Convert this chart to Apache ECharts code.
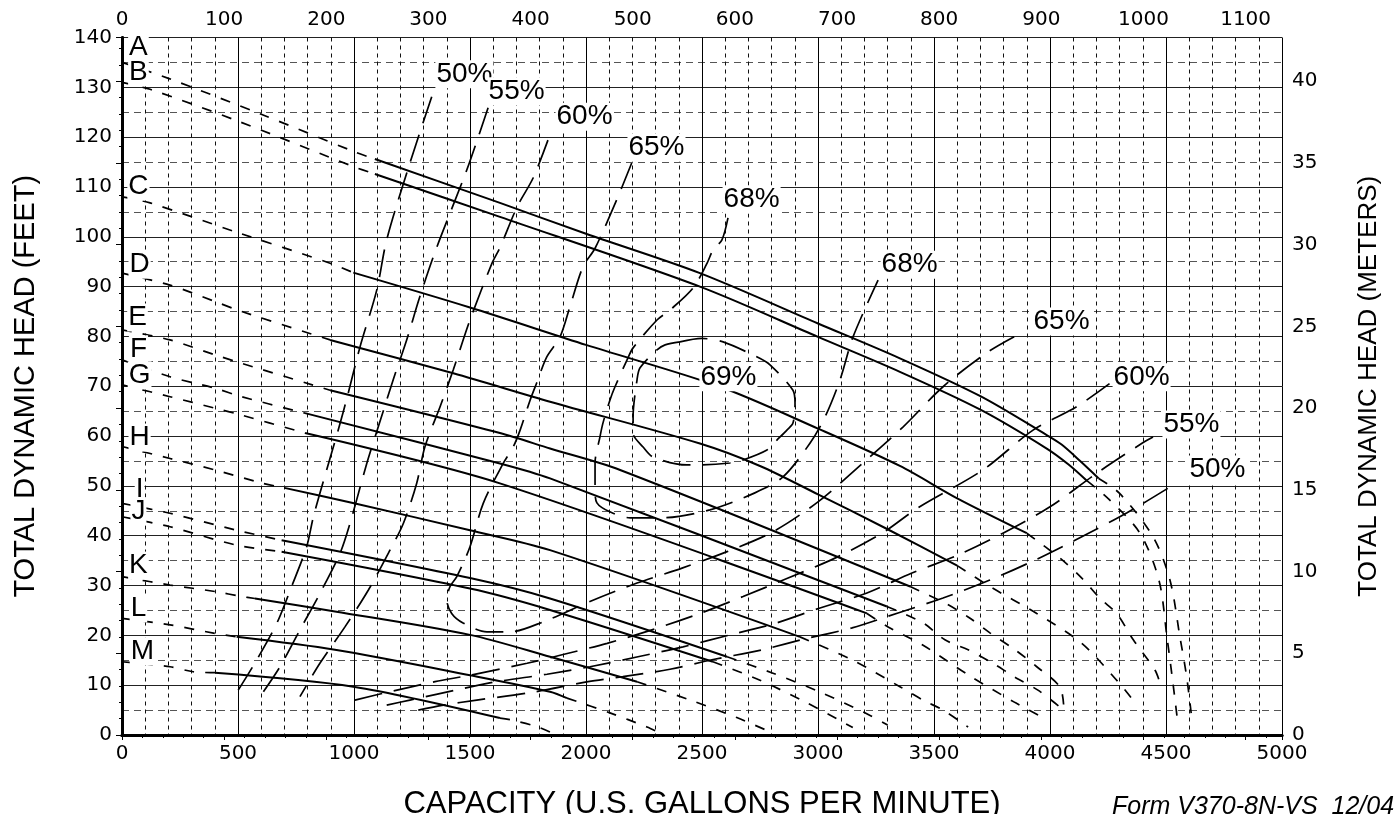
<!DOCTYPE html>
<html>
<head>
<meta charset="utf-8">
<script src="https://cdn.jsdelivr.net/npm/echarts@6/dist/echarts.min.js"></script>
<style>
  html, body { margin: 0; padding: 0; background: #fff; }
  #chart { width: 1395px; height: 814px; }
</style>
</head>
<body>
<div id="chart"></div>
<script>
// capacity in US gpm, head in feet
const GPM_PER_M3H = 4.40287;
const FT_PER_M = 3.28084;

// pump curves: dashed start, solid operating range, dashed run-out
const aLeft = [[0,135],[200,131.8],[600,124.6],[1000,117.1],[1090,115.6]];
const aSolid = [[1090,115.6],[1629,106.8],[2000,100.6],[2491,92.7],[3000,82.6],[3353,75.6],[3700,68],[3986,60.2],[4050,58.3],[4130,55],[4210,51.5]];
const aRight = [[4210,51.5],[4300,48.5],[4444,39.8],[4517,31.1],[4560,19.7],[4589,11.7],[4611,3.4]];

const bLeft = [[0,131],[121,129.6],[501,123.2],[997,114.1],[1090,112.6]];
const bSolid = [[1090,112.6],[1629,104],[2491,90],[3000,79.9],[3353,72.9],[3700,65.3],[3986,57.5],[4080,54.3],[4160,51]];
const bRight = [[4160,51],[4250,47.5],[4388,40.5],[4470,31],[4504,19.7],[4530,10.4],[4552,2]];

const cLeft = [[0,108],[121,106.8],[501,100.8],[897,94.7],[997,92.8]];
const cSolid = [[997,92.8],[1500,85.8],[2000,78.3],[2578,69.9],[3000,61.5],[3353,54],[3600,47.5],[3900,40.5]];
const cRight = [[3900,40.5],[4043,35.5],[4137,31.5],[4216,27.4],[4287,24.4],[4359,19.1],[4453,13],[4474,10.4]];

const dLeft = [[0,92.7],[207,90.3],[401,87],[516,85],[897,79.3]];
const dSolid = [[897,79.3],[1428,72.6],[1845,66.9],[2491,58.5],[2750,54],[3000,48.3],[3300,41.3],[3600,34]];
const dRight = [[3600,34],[3741,29.8],[3943,24.4],[4137,18.4],[4293,10.7],[4358,7]];

const eLeft = [[0,81.3],[207,79.3],[401,76.3],[516,74.6],[897,69.2]];
const eSolid = [[897,69.2],[1629,60.6],[1845,57.5],[2147,53.2],[3397,29.8]];
const eRight = [[3397,29.8],[3547,26.5],[3647,23.7],[3741,20.5],[3849,17.1],[3943,13.7],[4043,9.6],[4060,5]];

const fLeft = [[0,75.3],[207,71.9],[401,69.6],[516,67.9],[789,64.6]];
const fSolid = [[789,64.6],[1629,54.5],[1845,51.5],[3297,25.8]];
const fRight = [[3297,25.8],[3453,22.5],[3547,19.1],[3647,17.1],[3750,14.5],[3849,11.6],[3948,9],[4043,5.6]];

const gLeft = [[0,70.3],[207,67.9],[401,65.6],[516,64.2],[789,60.6]];
const gSolid = [[789,60.6],[1629,50.5],[3211,24.4]];
const gRight = [[3211,24.4],[3302,21.7],[3453,18],[3650,12],[3850,6.5],[3991,3]];

const hLeft = [[0,57.9],[207,55.5],[401,53.2],[600,50.6],[700,49.6]];
const hSolid = [[700,49.6],[1000,46.5],[1500,41.1],[1845,37.1],[2922,19.7]];
const hRight = [[2922,19.7],[3150,15],[3353,9.7],[3453,7],[3539,5],[3647,1.6]];

const iLeft = [[0,46.5],[207,44.5],[494,41.1],[688,39.1]];
const iSolid = [[688,39.1],[1500,31.5],[1845,27.4],[2608,15.7]];
const iRight = [[2608,15.7],[2800,12.5],[3000,8.8],[3200,4.5],[3300,2]];

const jLeft = [[0,43.8],[207,41.8],[494,38.1],[688,36.8]];
const jSolid = [[688,36.8],[1500,29.4],[1845,25.1],[2547,14.7]];
const jRight = [[2547,14.7],[2750,11],[2950,6.5],[3150,1.5]];

const kLeft = [[0,31.8],[207,30.1],[401,28.8],[516,27.8],[573,27.4]];
const kSolid = [[573,27.4],[918,24.8],[1500,20.1],[1845,15.7],[2220,10.7]];
const kRight = [[2220,10.7],[2450,7],[2650,3.5],[2800,0.5]];

const lLeft = [[0,23.4],[207,22.1],[401,20.4],[494,19.7]];
const lSolid = [[494,19.7],[918,17.1],[1500,12],[1845,8.7],[1918,7.4]];
const lRight = [[1918,7.4],[2100,4.5],[2263,1.6],[2319,0.4]];

const mLeft = [[0,14.7],[207,13.7],[307,12.7],[401,12.5]];
const mSolid = [[401,12.5],[997,9.7],[1629,3.4]];
const mRight = [[1629,3.4],[1680,3],[1787,1.7],[1850,0.5]];

// efficiency contours
const eff50Left = [[1335,128.1],[1241,114.8],[1141,99.4],[1098,89.3],[1026,77.9],[975,68.6],[932,61.2],[882,53.2],[825,43.8],[796,37.8],[731,29.8],[667,22.4],[581,15.1],[501,9]];
const eff55Left = [[1578,125.9],[1486,113.4],[1356,97.8],[1284,88],[1227,79.3],[1169,71.3],[1105,61.9],[1055,54.5],[983,42.5],[940,36.5],[853,28.4],[767,21.1],[681,13.7],[595,7.7]];
const eff60Left = [[1836,119.4],[1772,111.8],[1703,106],[1629,97.8],[1595,94.7],[1500,83.3],[1428,73.3],[1371,65.9],[1306,57.9],[1270,50.5],[1213,42.5],[1155,37.1],[1062,29.1],[961,21.7],[853,14.4],[767,7.7]];
const eff65 = [[2197,114.8],[2132,107.4],[2039,97.7],[1987,94],[1931,86],[1888,79.9],[1831,75.9],[1787,70.6],[1759,67.2],[1716,61.2],[1687,57.9],[1643,54.5],[1557,46.5],[1500,37.8],[1443,31.8],[1414,29.8],[1400,27.1],[1421,24.4],[1470,22.5],[1573,20.7],[1672,20.7],[1815,22.7],[2017,26.8],[2220,30.5],[2414,33.5],[2608,36.8],[2806,40.8],[3000,46.8],[3194,54.6],[3366,61.8],[3539,69.9],[3733,76.9],[3884,80.9]];
const eff68 = [[2612,103.8],[2586,99.4],[2547,97.3],[2522,94.7],[2461,89.7],[2362,85.3],[2306,83.3],[2203,77.7],[2181,75.7],[2125,69.9],[2103,67.2],[2073,62.6],[2060,59.8],[2039,54.6],[2039,49.2],[2047,46.6],[2103,44.8],[2190,43.6],[2332,43.6],[2534,45.2],[2728,48.6],[2849,51.8],[2966,58.6],[3030,63.8],[3095,71.3],[3151,79.9],[3259,91.3]];
const eff69 = [[2405,78.9],[2499,79.6],[2591,78.9],[2736,75.9],[2793,74.3],[2892,69.2],[2901,66.6],[2892,62.6],[2866,61.2],[2823,59.2],[2780,57.2],[2677,55.2],[2621,54.6],[2491,54.2],[2435,54.2],[2289,55.8],[2246,57.8],[2203,60.6],[2203,63.8],[2220,71.3],[2233,73.7],[2306,77.3],[2341,78.3],[2405,78.9]];
const eff60Right = [[1004,7],[1155,8.7],[1349,10.7],[1500,12],[1746,14.4],[1897,16.1],[2091,18.4],[2284,21.1],[2491,24.4],[2677,27.8],[2871,31.5],[3073,35.5],[3276,40.5],[3431,45.6],[3711,53.2],[3927,61.2],[4115,65.9],[4259,70.6]];
const eff55Right = [[1141,6],[1241,7],[1478,9.4],[1615,10.7],[1832,12.2],[2017,13.7],[2224,15.7],[2418,17.7],[2621,20.1],[2815,22.4],[3009,25.5],[3211,28.5],[3405,32.5],[3603,36.1],[3797,40.5],[4000,45.8],[4203,52.6],[4395,58.5],[4444,59.8]];
const eff50Right = [[1277,5],[1385,6],[1529,7],[1772,8.6],[2009,10.7],[2159,11.7],[2362,13.2],[2543,15.1],[2759,17.1],[2953,19.4],[3147,21.5],[3345,24.5],[3539,27.5],[3741,31.1],[3935,35.1],[4137,39.8],[4332,44.6],[4532,50.2]];

// text anchors [gpm, ft, text]
const curveLabels = [[73,137.9,'A'],[73,132.9,'B'],[73,110,'C'],[78,94.3,'D'],[69,83.7,'E'],[73,77.3,'F'],[78,72.1,'G'],[78,59.6,'H'],[78,49.2,'I'],[73,44.8,'J'],[73,33.9,'K'],[73,25.3,'L'],[90,16.7,'M']];
const effLabels = [[1478,132.5,'50%'],[1703,129.1,'55%'],[1996,124,'60%'],[2306,117.8,'65%'],[2716,107.4,'68%'],[3397,94.3,'68%'],[4052,82.9,'65%'],[4397,71.7,'60%'],[4612,62.2,'55%'],[4724,53.2,'50%'],[2616,71.7,'69%']];

const chart = echarts.init(document.getElementById('chart'));

const pumpCurves = [
  [aLeft, aSolid, aRight], [bLeft, bSolid, bRight], [cLeft, cSolid, cRight],
  [dLeft, dSolid, dRight], [eLeft, eSolid, eRight], [fLeft, fSolid, fRight],
  [gLeft, gSolid, gRight], [hLeft, hSolid, hRight], [iLeft, iSolid, iRight],
  [jLeft, jSolid, jRight], [kLeft, kSolid, kRight], [lLeft, lSolid, lRight],
  [mLeft, mSolid, mRight]
];
const effCurves = [eff50Left, eff55Left, eff60Left, eff65, eff68, eff69, eff60Right, eff55Right, eff50Right];

function line(data, dash, width) {
  return {
    type: 'line',
    data: data,
    symbol: 'none',
    smooth: 0.3,
    silent: true,
    z: 3,
    lineStyle: { color: '#000', width: width, type: dash }
  };
}

let series = [];
pumpCurves.forEach(c => {
  series.push(line(c[0], [10, 11], 1.7));
  series.push(line(c[1], 'solid', 2));
  series.push(line(c[2], [10, 11], 1.7));
});
effCurves.forEach(c => series.push(line(c, [28, 12], 1.7)));

const textSeries = (data, size) => ({
  type: 'scatter',
  data: data,
  symbolSize: 1,
  z: 5,
  silent: true,
  itemStyle: { color: '#fff', opacity: 1 },
  label: {
    show: true,
    position: [0, 0],
    align: 'center',
    verticalAlign: 'middle',
    formatter: p => p.value[2],
    fontFamily: 'Liberation Sans',
    fontSize: size,
    color: '#000',
    opacity: 1,
    backgroundColor: '#fff',
    padding: [0, 1, 0, 1]
  }
});
series.push(textSeries(curveLabels, 28));
series.push(textSeries(effLabels, 28));

const tickFont = { fontFamily: 'DejaVu Sans', fontSize: 20, color: '#000', formatter: v => String(v) };

const option = {
  animation: false,
  backgroundColor: '#fff',
  grid: { left: 122, right: 113, top: 37.5, bottom: 79, outerBoundsMode: 'none' },
  xAxis: [
    {
      type: 'value', position: 'bottom', min: 0, max: 5000, interval: 500,
      name: 'CAPACITY (U.S. GALLONS PER MINUTE)', nameLocation: 'middle', nameGap: 54,
      nameTextStyle: { fontFamily: 'Liberation Sans', fontSize: 31, color: '#000' },
      axisLine: { show: true, lineStyle: { color: '#000', width: 3 } },
      axisTick: { show: false },
      axisLabel: Object.assign({ margin: 9 }, tickFont),
      splitLine: { show: true, lineStyle: { color: '#000', width: 1 } },
      minorTick: { show: false, splitNumber: 5 },
      minorSplitLine: { show: true, lineStyle: { color: '#111', width: 1, type: [4, 4] } }
    },
    {
      type: 'value', position: 'top', min: 0, max: 5000 / GPM_PER_M3H, interval: 100,
      axisLine: { show: true, lineStyle: { color: '#000', width: 3 } },
      axisTick: { show: true, inside: true, length: 5, lineStyle: { color: '#000' } },
      minorTick: { show: true, splitNumber: 5, length: 3, lineStyle: { color: '#000' } },
      axisLabel: Object.assign({ margin: 8, showMaxLabel: false }, tickFont),
      splitLine: { show: false }
    }
  ],
  yAxis: [
    {
      type: 'value', position: 'left', min: 0, max: 140, interval: 10,
      name: 'TOTAL DYNAMIC HEAD (FEET)', nameLocation: 'middle', nameGap: 82, nameRotate: 90,
      nameTextStyle: { fontFamily: 'Liberation Sans', fontSize: 29, color: '#000' },
      axisLine: { show: true, lineStyle: { color: '#000', width: 3 } },
      axisTick: { show: false },
      axisLabel: Object.assign({ margin: 10 }, tickFont),
      splitLine: { show: true, lineStyle: { color: '#222', width: 1 } },
      minorTick: { show: false, splitNumber: 2 },
      minorSplitLine: { show: true, lineStyle: { color: '#555', width: 1, type: [7, 5] } }
    },
    {
      type: 'value', position: 'right', min: 0, max: 140 / FT_PER_M, interval: 5,
      name: 'TOTAL DYNAMIC HEAD (METERS)', nameLocation: 'middle', nameGap: 74, nameRotate: 90,
      nameTextStyle: { fontFamily: 'Liberation Sans', fontSize: 26, color: '#000' },
      axisLine: { show: true, lineStyle: { color: '#000', width: 3 } },
      axisTick: { show: true, inside: true, length: 6, lineStyle: { color: '#000' } },
      minorTick: { show: true, splitNumber: 5, length: 3, lineStyle: { color: '#000' } },
      axisLabel: Object.assign({ margin: 10, showMaxLabel: false }, tickFont),
      splitLine: { show: false }
    }
  ],
  graphic: [
    {
      type: 'text', left: 1112, top: 795,
      style: { text: 'Form V370-8N-VS  12/04', font: 'italic 25px "Liberation Sans"', fill: '#000' }
    }
  ],
  series: series
};

chart.setOption(option);
</script>
</body>
</html>
